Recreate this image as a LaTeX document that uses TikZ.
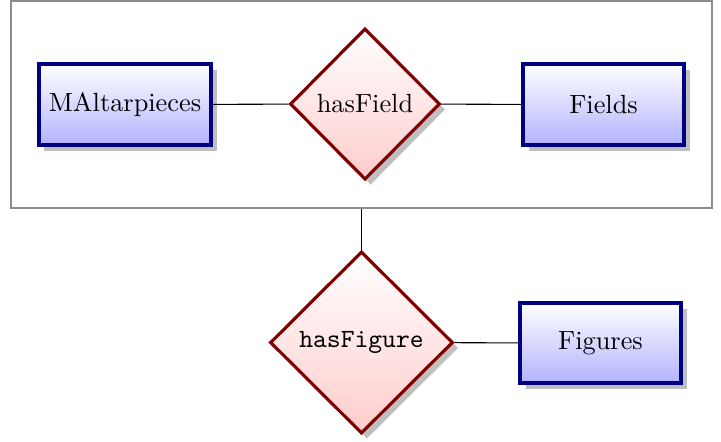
\documentclass[tikz,border=0pt]{standalone}
\usetikzlibrary{shapes.geometric,shadows,fit}
\begin{document}
\begin{tikzpicture}[x=0.38pt,y=-0.38pt,
  entity/.style={rectangle, draw=blue!50!black, line width=1.3pt,
    top color=white, bottom color=blue!30, inner sep=0pt,
    minimum height=30.8pt,
    drop shadow={shadow xshift=2.1pt, shadow yshift=-2.1pt, fill=black!25, opacity=1}},
  relation/.style={diamond, aspect=1, draw=red!50!black, line width=1.2pt,
    top color=white, bottom color=red!20, inner sep=0pt,
    drop shadow={shadow xshift=2.1pt, shadow yshift=-2.1pt, fill=black!25, opacity=1}},
  link/.style={draw=black, line width=0.4pt}]
\useasboundingbox (0,0) rectangle (721,441);
\node[fit={(11,1) (712,208)}, inner sep=0pt, draw=black!45, line width=0.45pt] (frame) {};
\node[entity, minimum width=65.4pt] (malt) at (125,104.5) {MAltarpieces};
\node[relation, minimum width=57pt, minimum height=57.5pt] (hasfield) at (365,104) {hasField};
\node[entity, minimum width=61.2pt] (fields) at (603.5,104.5) {Fields};
\node[relation, minimum width=69.5pt, minimum height=69.2pt] (hasfigure) at (361.5,342.5) {\texttt{hasFigure}};
\node[entity, minimum width=61.2pt, minimum height=30.4pt] (figures) at (600.5,343) {Figures};
\draw[link] (malt) -- (hasfield);
\draw[link] (hasfield) -- (fields);
\draw[link] (frame.south -| hasfigure.north) -- (hasfigure.north);
\draw[link] (hasfigure) -- (figures);
\end{tikzpicture}
\end{document}
